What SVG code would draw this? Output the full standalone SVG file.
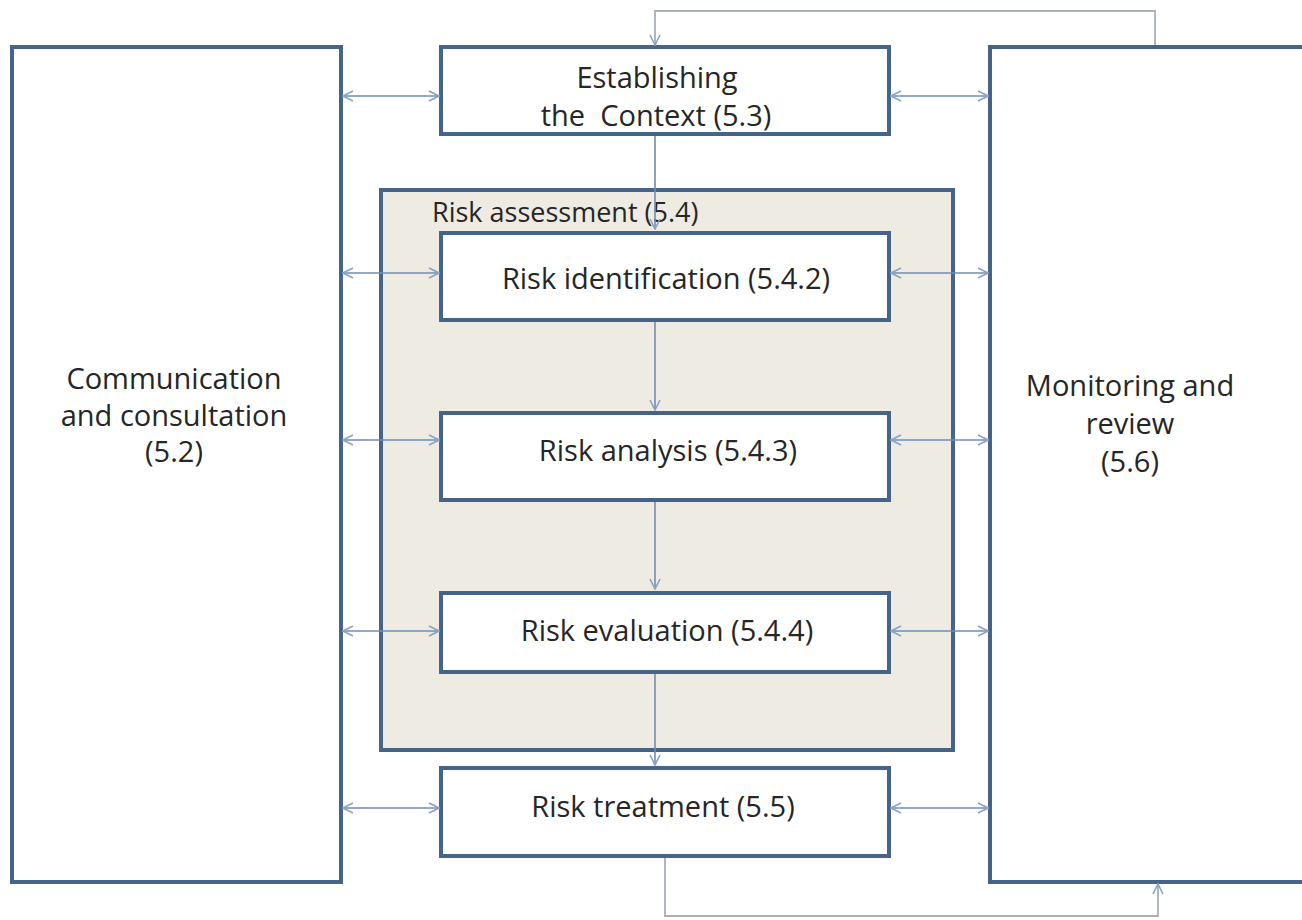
<svg xmlns="http://www.w3.org/2000/svg" width="1302" height="920" viewBox="0 0 1302 920">
  <defs>
    <style>
      .box { fill: #ffffff; stroke: #46638a; stroke-width: 4; }
      .group { fill: #eeebe2; stroke: #46638a; stroke-width: 4; }
      .label { font-family: "Open Sans", "Liberation Sans", Arial, sans-serif; font-size: 29px; fill: #262626; }
      .small { font-size: 27px; }
      .flow { fill: none; stroke: #6f8db5; stroke-width: 1.6; }
      .loop { fill: none; stroke: #a7afb8; stroke-width: 1.8; }
    </style>
    <marker id="open" viewBox="0 0 12 12" refX="11" refY="6" markerWidth="12" markerHeight="12" markerUnits="userSpaceOnUse" orient="auto-start-reverse">
      <path d="M1,1 L11,6 L1,11" fill="none" stroke="#8aa2c4" stroke-width="1.6"/>
    </marker>
  </defs>
  <rect width="1302" height="920" fill="#ffffff"/>

  <g id="risk-assessment">
    <rect class="group" x="381" y="190" width="572" height="560"/>
    <text class="label small" x="432" y="222">Risk assessment (5.4)</text>
  </g>

  <g id="communication">
    <rect class="box" x="12" y="47" width="329" height="835"/>
    <text class="label" text-anchor="middle" x="174" y="389">Communication</text>
    <text class="label" text-anchor="middle" x="174" y="426">and consultation</text>
    <text class="label" text-anchor="middle" x="174" y="462">(5.2)</text>
  </g>

  <g id="monitoring">
    <rect class="box" x="990" y="47" width="330" height="835"/>
    <text class="label" text-anchor="middle" x="1130" y="396">Monitoring and</text>
    <text class="label" text-anchor="middle" x="1130" y="434">review</text>
    <text class="label" text-anchor="middle" x="1130" y="472">(5.6)</text>
  </g>

  <g id="context">
    <rect class="box" x="441" y="47" width="448" height="87"/>
    <text class="label" text-anchor="middle" x="657" y="88">Establishing</text>
    <text class="label" text-anchor="middle" x="656" y="126" xml:space="preserve">the  Context (5.3)</text>
  </g>

  <g id="identification">
    <rect class="box" x="441" y="233" width="448" height="87"/>
    <text class="label" text-anchor="middle" x="666" y="289">Risk identification (5.4.2)</text>
  </g>

  <g id="analysis">
    <rect class="box" x="441" y="413" width="448" height="87"/>
    <text class="label" text-anchor="middle" x="668" y="461">Risk analysis (5.4.3)</text>
  </g>

  <g id="evaluation">
    <rect class="box" x="441" y="593" width="448" height="79"/>
    <text class="label" text-anchor="middle" x="667" y="641">Risk evaluation (5.4.4)</text>
  </g>

  <g id="treatment">
    <rect class="box" x="441" y="768" width="448" height="88"/>
    <text class="label" text-anchor="middle" x="663" y="817">Risk treatment (5.5)</text>
  </g>

  <g id="connectors">
    <!-- two-way links to communication and monitoring -->
    <line class="flow" x1="343" y1="96" x2="439" y2="96" marker-start="url(#open)" marker-end="url(#open)"/>
    <line class="flow" x1="891" y1="96" x2="988" y2="96" marker-start="url(#open)" marker-end="url(#open)"/>
    <line class="flow" x1="343" y1="273" x2="439" y2="273" marker-start="url(#open)" marker-end="url(#open)"/>
    <line class="flow" x1="891" y1="273" x2="988" y2="273" marker-start="url(#open)" marker-end="url(#open)"/>
    <line class="flow" x1="343" y1="440" x2="439" y2="440" marker-start="url(#open)" marker-end="url(#open)"/>
    <line class="flow" x1="891" y1="440" x2="988" y2="440" marker-start="url(#open)" marker-end="url(#open)"/>
    <line class="flow" x1="343" y1="631" x2="439" y2="631" marker-start="url(#open)" marker-end="url(#open)"/>
    <line class="flow" x1="891" y1="631" x2="988" y2="631" marker-start="url(#open)" marker-end="url(#open)"/>
    <line class="flow" x1="343" y1="808" x2="439" y2="808" marker-start="url(#open)" marker-end="url(#open)"/>
    <line class="flow" x1="891" y1="808" x2="988" y2="808" marker-start="url(#open)" marker-end="url(#open)"/>

    <!-- main sequence -->
    <line class="flow" x1="655" y1="136" x2="655" y2="229" marker-end="url(#open)"/>
    <line class="flow" x1="655" y1="322" x2="655" y2="410" marker-end="url(#open)"/>
    <line class="flow" x1="655" y1="502" x2="655" y2="589" marker-end="url(#open)"/>
    <line class="flow" x1="655" y1="674" x2="655" y2="765" marker-end="url(#open)"/>

    <!-- feedback loops -->
    <polyline class="loop" points="1155,45 1155,11 655,11 655,45" marker-end="url(#open)"/>
    <polyline class="loop" points="665,858 665,916 1158,916 1158,884" marker-end="url(#open)"/>
  </g>
</svg>
